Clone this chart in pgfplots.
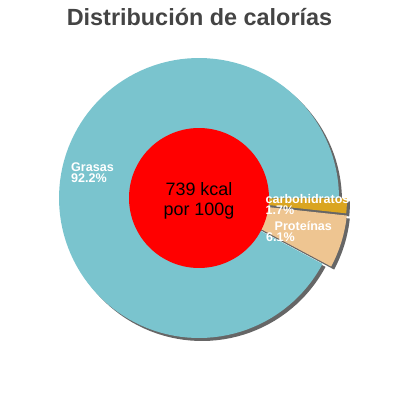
\documentclass[border=0pt]{standalone}
\usepackage{pgfplots}
\pgfplotsset{compat=1.18}
\usepackage{fontspec}
\setmainfont{Liberation Sans}
\definecolor{grasas}{HTML}{7AC4CE}
\definecolor{carbs}{HTML}{DAA520}
\definecolor{prot}{HTML}{EEC591}
\definecolor{shadowgray}{HTML}{666666}
\definecolor{titlegray}{HTML}{444444}

% shares of calories (%)
\def\grasas{92.2}
\def\carbs{1.7}
\def\prot{6.1}

% one pie slice: colour, centre x, centre y, radius, from angle, to angle
\newcommand{\pieslice}[6]{%
  \addplot[fill=#1, draw=none, domain=#5:#6, samples=120, variable=\t]
    ({#2+#4*cos(\t)},{#3+#4*sin(\t)}) -- (axis cs:#2,#3) -- cycle;}

\tikzset{lbl/.style={inner sep=0, text=white, anchor=base west,
    font=\bfseries\fontsize{12.6}{12}\selectfont}}

\begin{document}
\begin{tikzpicture}
\pgfmathsetmacro{\cx}{199}
\pgfmathsetmacro{\cy}{202}
\pgfmathsetmacro{\R}{140}
\pgfmathsetmacro{\aG}{3.6*\grasas}
\pgfmathsetmacro{\aC}{-3.6*\carbs}
\pgfmathsetmacro{\aP}{\aC-3.6*\prot}
% exploded slices
\pgfmathsetmacro{\cxC}{\cx+8*cos(\aC/2)}
\pgfmathsetmacro{\cyC}{\cy+8*sin(\aC/2)}
\pgfmathsetmacro{\cxP}{\cx+9*cos((\aC+\aP)/2)}
\pgfmathsetmacro{\cyP}{\cy+9*sin((\aC+\aP)/2)}
% shadow centres
\pgfmathsetmacro{\sx}{\cx+3}
\pgfmathsetmacro{\sy}{\cy-3}
\pgfmathsetmacro{\sxC}{\cxC+3}
\pgfmathsetmacro{\syC}{\cyC-3}
\pgfmathsetmacro{\sxP}{\cxP+3}
\pgfmathsetmacro{\syP}{\cyP-3}
\begin{axis}[
  width=400bp, height=400bp, scale only axis,
  xmin=0, xmax=400, ymin=0, ymax=400,
  hide axis, clip=false,
]
  \path (axis cs:0,0) rectangle (axis cs:400,400);
  % shadows
  \pieslice{shadowgray}{\sx}{\sy}{\R}{0}{\aG}
  \pieslice{shadowgray}{\sxC}{\syC}{\R}{\aC}{0}
  \pieslice{shadowgray}{\sxP}{\syP}{\R}{\aP}{\aC}
  % slices
  \pieslice{grasas}{\cx}{\cy}{\R}{0}{\aG}
  \pieslice{carbs}{\cxC}{\cyC}{\R}{\aC}{0}
  \pieslice{prot}{\cxP}{\cyP}{\R}{\aP}{\aC}
  % centre disc
  \pieslice{red}{\cx}{\cy}{70}{0}{360}

  \node[lbl] at (axis cs:71,229) {Grasas};
  \node[lbl] at (axis cs:71,218) {92.2\%};
  \node[lbl] at (axis cs:265.5,197) {carbohidratos};
  \node[lbl] at (axis cs:265.5,186) {1.7\%};
  \node[lbl] at (axis cs:274.5,170) {Proteínas};
  \node[lbl] at (axis cs:266,158.5) {6.1\%};
  \node[anchor=base, inner sep=0, text=black,
        font=\fontsize{18}{20}\selectfont]
        at (axis cs:199,205) {739 kcal};
  \node[anchor=base, inner sep=0, text=black,
        font=\fontsize{18}{20}\selectfont]
        at (axis cs:199,185) {por 100g};
  \node[anchor=base, inner sep=0, text=titlegray,
        font=\bfseries\fontsize{23.5}{24}\selectfont]
        at (axis cs:199.5,375) {Distribución de calorías};
\end{axis}
\end{tikzpicture}
\end{document}
